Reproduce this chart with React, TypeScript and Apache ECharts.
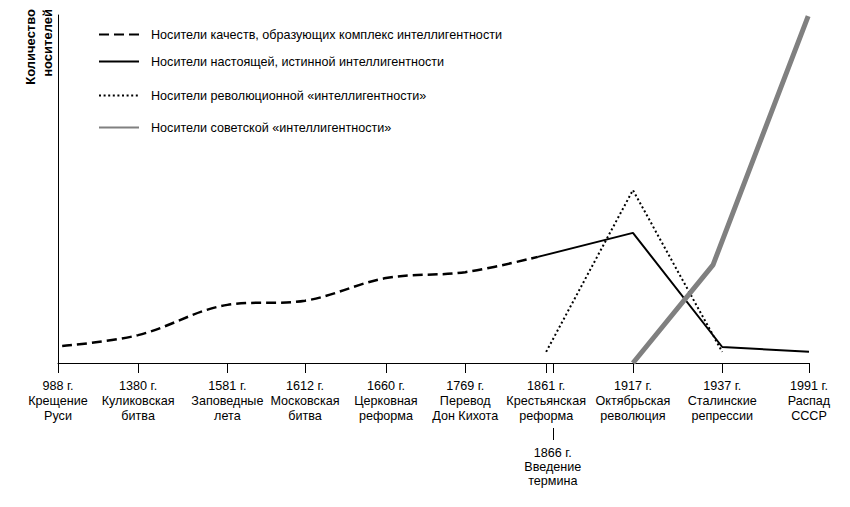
import React, { useEffect, useRef } from "react";
import * as echarts from "echarts";

// Event positions along the (non-uniform) time axis, in axis slots
const eventSlots = [0, 0.96, 2.03, 2.96, 3.93, 4.88, 5.85, 6.89, 7.96, 9.0];
const eventYears = ["988 г.", "1380 г.", "1581 г.", "1612 г.", "1660 г.", "1769 г.", "1861 г.", "1917 г.", "1937 г.", "1991 г."];
const eventNames = [
  "Крещение\nРуси",
  "Куликовская\nбитва",
  "Заповедные\nлета",
  "Московская\nбитва",
  "Церковная\nреформа",
  "Перевод\nДон Кихота",
  "Крестьянская\nреформа",
  "Октябрьская\nреволюция",
  "Сталинские\nрепрессии",
  "Распад\nСССР",
];
const termSlot = 5.93;
const termLabel = "1866 г.\nВведение\nтермина";

const seriesNames = [
  "Носители качеств, образующих комплекс интеллигентности",
  "Носители настоящей, истинной интеллигентности",
  "Носители революционной «интеллигентности»",
  "Носители советской «интеллигентности»",
];

// Series values: [slot, amount]
const qualitiesX = [0.05, 0.96, 2.03, 2.96, 3.93, 4.88, 5.75];
const qualitiesY = [4.9, 8.0, 16.7, 17.9, 24.4, 26.1, 30.5];
const trueX = [5.75, 6.89, 7.96, 9.0];
const trueY = [30.5, 37.4, 4.6, 3.2];
const revX = [5.85, 6.89, 7.96];
const revY = [3.2, 49.7, 3.2];
const sovX = [6.89, 7.85, 8.99];
const sovY = [0, 28.2, 99.7];

const FONT = '"Liberation Sans", Arial, sans-serif';
const FS = 12.6;

const pairs = (xs: number[], ys: number[]) => xs.map((x, i) => [x, ys[i]]);

export default function App() {
  const ref = useRef<HTMLDivElement>(null);
  useEffect(() => {
    document.body.style.margin = "0";
    const chart = echarts.init(ref.current!, null, { renderer: "svg" });
    const legendTops = [28, 55, 89, 121];
    const option: any = {
      animation: false,
      backgroundColor: "#fff",
      grid: { left: 58, right: 41, top: 15, bottom: 144 },
      xAxis: {
        type: "value",
        min: 0,
        max: 9,
        axisLine: { show: true, lineStyle: { color: "#000", width: 1 } },
        axisTick: { show: false },
        axisLabel: { show: false },
        splitLine: { show: false },
      },
      yAxis: {
        type: "value",
        min: 0,
        max: 100,
        axisLine: { show: true, lineStyle: { color: "#000", width: 1 } },
        axisTick: { show: false },
        axisLabel: { show: false },
        splitLine: { show: false },
      },
      legend: seriesNames.map((n, i) => ({
        left: 98,
        top: legendTops[i],
        padding: 0,
        itemWidth: 40,
        itemHeight: 14,
        selectedMode: false,
        data: [n],
        itemStyle: { opacity: 0 },
        textStyle: { fontSize: FS, color: "#000", fontFamily: FONT, padding: [0, 0, 0, 7] },
      })),
      graphic: [
        {
          type: "text",
          x: 38.5,
          y: 9,
          rotation: Math.PI / 2,
          style: {
            text: "Количество\nносителей",
            align: "right",
            verticalAlign: "middle",
            fontSize: 13,
            fontWeight: "bold",
            fontFamily: FONT,
            lineHeight: 17,
            fill: "#000",
          },
        },
      ],
      series: [
        {
          name: seriesNames[0],
          type: "line",
          smooth: 0.35,
          symbol: "none",
          data: pairs(qualitiesX, qualitiesY),
          lineStyle: { color: "#000", width: 2.5, type: [10, 5] },
          itemStyle: { color: "#000" },
        },
        {
          name: seriesNames[1],
          type: "line",
          symbol: "none",
          data: pairs(trueX, trueY),
          lineStyle: { color: "#000", width: 2 },
          itemStyle: { color: "#000" },
        },
        {
          name: seriesNames[2],
          type: "line",
          symbol: "none",
          data: pairs(revX, revY),
          lineStyle: { color: "#000", width: 2, type: [2, 2.6] },
          itemStyle: { color: "#000" },
        },
        {
          name: seriesNames[3],
          type: "line",
          symbol: "none",
          data: pairs(sovX, sovY),
          lineStyle: { color: "#808080", width: 5 },
          itemStyle: { color: "#808080" },
        },
        {
          type: "custom",
          clip: false,
          silent: true,
          data: eventSlots.map((s) => [s, 0]),
          encode: { x: 0, y: 1 },
          renderItem: (params: any, api: any) => {
            const i = params.dataIndex;
            const pt = api.coord([api.value(0), api.value(1)]);
            const x = Math.round(pt[0]) + 0.5;
            const y = Math.round(pt[1]);
            return {
              type: "group",
              children: [
                { type: "line", shape: { x1: x, y1: y, x2: x, y2: y + 10 }, style: { stroke: "#000", lineWidth: 1 } },
                {
                  type: "text",
                  x: pt[0],
                  y: y + 15,
                  style: {
                    text: eventYears[i] + "\n" + eventNames[i],
                    align: "center",
                    verticalAlign: "top",
                    fontSize: FS,
                    fontFamily: FONT,
                    lineHeight: 15,
                    fill: "#000",
                  },
                },
              ],
            };
          },
        },
        {
          type: "custom",
          clip: false,
          silent: true,
          data: [[termSlot, 0]],
          encode: { x: 0, y: 1 },
          renderItem: (params: any, api: any) => {
            const pt = api.coord([api.value(0), api.value(1)]);
            const x = Math.round(pt[0]) + 0.5;
            const y = Math.round(pt[1]);
            return {
              type: "group",
              children: [
                { type: "line", shape: { x1: x, y1: y, x2: x, y2: y + 10 }, style: { stroke: "#000", lineWidth: 1 } },
                { type: "line", shape: { x1: x, y1: y + 65, x2: x, y2: y + 77 }, style: { stroke: "#000", lineWidth: 1 } },
                {
                  type: "text",
                  x: pt[0],
                  y: y + 83,
                  style: {
                    text: termLabel,
                    align: "center",
                    verticalAlign: "top",
                    fontSize: FS,
                    fontFamily: FONT,
                    lineHeight: 14,
                    fill: "#000",
                  },
                },
              ],
            };
          },
        },
      ],
    };
    chart.setOption(option);
    return () => chart.dispose();
  }, []);
  return <div ref={ref} style={{ width: 850, height: 507 }} />;
}
